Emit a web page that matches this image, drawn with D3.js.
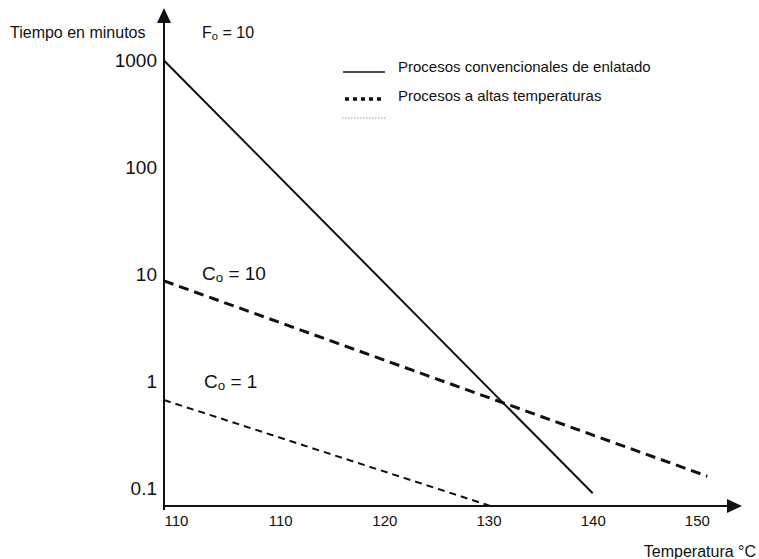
<!DOCTYPE html>
<html>
<head>
<meta charset="utf-8">
<script src="https://cdn.jsdelivr.net/npm/d3@7"></script>
<style>
  body { margin: 0; background: #fff; }
  svg { display: block; font-family: 'Liberation Sans', Arial, sans-serif; }
</style>
</head>
<body>
<svg id="svg" width="759" height="559"></svg>
<script>
// tick values and labels (the first x label reads 110 in the original)
var tempTicks = [100, 110, 120, 130, 140, 150];
var tempTickLabels = ['110', '110', '120', '130', '140', '150'];
var timeTicks = [0.1, 1, 10, 100, 1000];
var timeTickLabels = ['0.1', '1', '10', '100', '1000'];

// Procesos convencionales (F0 = 10)
var convTemps = [98.85, 140];
var convTimes = [1000, 0.09];

// Procesos a altas temperaturas, C0 = 10
var co10Temps = [98.85, 151];
var co10Times = [8.7, 0.13];

// C0 = 1
var co1Temps = [98.85, 130.2];
var co1Times = [0.67, 0.0685];

var ink = '#111';

var svg = d3.select('svg');

var x = d3.scaleLinear()
    .domain([98.85, 154.33])
    .range([164, 742]);

var y = d3.scaleLog()
    .domain([0.0685, 3090])
    .range([506, 8]);

function pts(ts, vs) {
    return ts.map(function (t, i) { return { t: t, v: vs[i] }; });
}

var line = d3.line()
    .x(function (d) { return x(d.t); })
    .y(function (d) { return y(d.v); });

// axes lines with arrows
var x0 = x.range()[0], y0 = y.range()[0];
svg.append('line')
    .attr('x1', x0).attr('y1', y0 + 4)
    .attr('x2', x0).attr('y2', 20)
    .attr('stroke', ink).attr('stroke-width', 2);
svg.append('path')
    .attr('d', 'M' + x0 + ',' + y.range()[1] + 'l-7,15h14z')
    .attr('fill', ink);
svg.append('line')
    .attr('x1', x0).attr('y1', y0)
    .attr('x2', 730).attr('y2', y0)
    .attr('stroke', ink).attr('stroke-width', 2);
svg.append('path')
    .attr('d', 'M' + x.range()[1] + ',' + y0 + 'l-15,-7v14z')
    .attr('fill', ink);

// tick labels
var xAxis = svg.append('g')
    .attr('transform', 'translate(0,' + y0 + ')')
    .call(d3.axisBottom(x)
        .tickValues(tempTicks)
        .tickSize(0)
        .tickPadding(9)
        .tickFormat(function (d, i) { return tempTickLabels[i]; }));
xAxis.select('.domain').remove();
xAxis.selectAll('text')
    .attr('font-size', 15)
    .attr('font-family', 'Liberation Sans, Arial, sans-serif')
    .attr('fill', ink);

var yAxis = svg.append('g')
    .attr('transform', 'translate(' + x0 + ',0)')
    .call(d3.axisLeft(y)
        .tickValues(timeTicks)
        .tickSize(0)
        .tickPadding(7)
        .tickFormat(function (d, i) { return timeTickLabels[i]; }));
yAxis.select('.domain').remove();
yAxis.selectAll('text')
    .attr('font-size', 19)
    .attr('font-family', 'Liberation Sans, Arial, sans-serif')
    .attr('fill', ink);

// data lines
svg.append('path')
    .datum(pts(convTemps, convTimes))
    .attr('d', line)
    .attr('fill', 'none')
    .attr('stroke', ink)
    .attr('stroke-width', 2);

svg.append('path')
    .datum(pts(co10Temps, co10Times))
    .attr('d', line)
    .attr('fill', 'none')
    .attr('stroke', ink)
    .attr('stroke-width', 3)
    .attr('stroke-dasharray', '10,6');

svg.append('path')
    .datum(pts(co1Temps, co1Times))
    .attr('d', line)
    .attr('fill', 'none')
    .attr('stroke', ink)
    .attr('stroke-width', 2)
    .attr('stroke-dasharray', '7,5');

// labels with subscripts
function subLabel(px, py, main, sub, rest, size) {
    var t = svg.append('text')
        .attr('x', px).attr('y', py)
        .attr('font-size', size)
        .attr('fill', ink);
    t.append('tspan').text(main);
    t.append('tspan').attr('font-size', size * 0.7).attr('dy', 2).text(sub);
    t.append('tspan').attr('dy', -2).text(rest);
}

subLabel(202, 38, 'F', 'o', ' = 10', 16);
subLabel(202, 280, 'C', 'o', ' = 10', 19);
subLabel(204, 388, 'C', 'o', ' = 1', 19);

svg.append('text')
    .attr('x', 10).attr('y', 38)
    .attr('font-size', 16)
    .attr('fill', ink)
    .text('Tiempo en minutos');

svg.append('text')
    .attr('x', 756).attr('y', 557)
    .attr('text-anchor', 'end')
    .attr('font-size', 16)
    .attr('fill', ink)
    .text('Temperatura °C');

// legend
svg.append('line')
    .attr('x1', 343).attr('x2', 385)
    .attr('y1', 72).attr('y2', 72)
    .attr('stroke', ink).attr('stroke-width', 1.5);
svg.append('text')
    .attr('x', 398).attr('y', 72)
    .attr('font-size', 15)
    .attr('fill', ink)
    .text('Procesos convencionales de enlatado');

svg.append('line')
    .attr('x1', 345).attr('x2', 385)
    .attr('y1', 99).attr('y2', 99)
    .attr('stroke', ink).attr('stroke-width', 3.5)
    .attr('stroke-dasharray', '4,4');
svg.append('text')
    .attr('x', 398).attr('y', 101)
    .attr('font-size', 15)
    .attr('fill', ink)
    .text('Procesos a altas temperaturas');

svg.append('line')
    .attr('x1', 342).attr('x2', 387)
    .attr('y1', 118).attr('y2', 118)
    .attr('stroke', '#999').attr('stroke-width', 1)
    .attr('stroke-dasharray', '1.5,1.5');
</script>
</body>
</html>
